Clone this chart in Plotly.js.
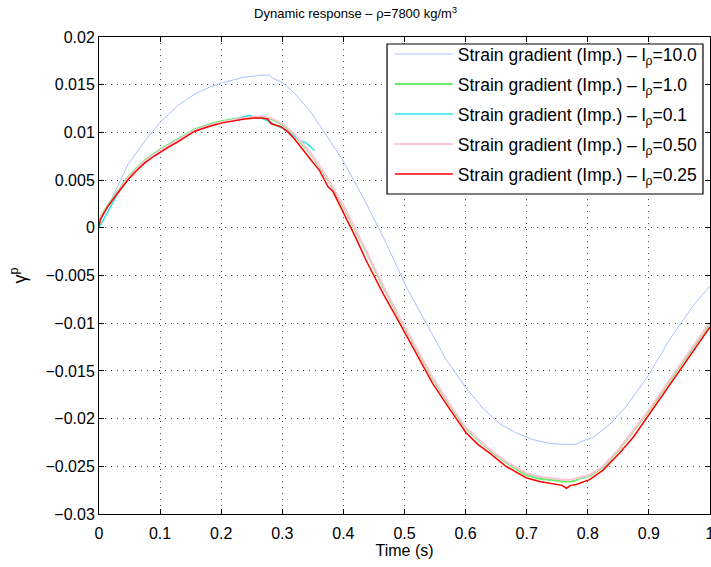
<!DOCTYPE html>
<html>
<head>
<meta charset="utf-8">
<script src="https://cdn.plot.ly/plotly-3.0.1.min.js"></script>
<style>html,body{margin:0;padding:0;background:#fff;}#chart{width:711px;height:567px;}</style>
</head>
<body>
<div id="chart"></div>
<script>
// ---- Data ----
const seriesNames = [
  "Strain gradient (Imp.) – l<sub>ρ</sub>=10.0",
  "Strain gradient (Imp.) – l<sub>ρ</sub>=1.0",
  "Strain gradient (Imp.) – l<sub>ρ</sub>=0.1",
  "Strain gradient (Imp.) – l<sub>ρ</sub>=0.50",
  "Strain gradient (Imp.) – l<sub>ρ</sub>=0.25"
];

const xL10 = [0, 0.005, 0.014, 0.025, 0.047, 0.075, 0.102, 0.129, 0.156, 0.183, 0.202, 0.22, 0.238, 0.255, 0.265, 0.279, 0.284, 0.301, 0.32, 0.347, 0.366, 0.383, 0.399, 0.437, 0.47, 0.503, 0.536, 0.568, 0.601, 0.628, 0.655, 0.683, 0.71, 0.737, 0.76, 0.781, 0.789, 0.808, 0.836, 0.863, 0.9, 0.934, 0.972, 1.0];
const yL10 = [0.0004, 0.0012, 0.0022, 0.0036, 0.0066, 0.0091, 0.0112, 0.0128, 0.0140, 0.0148, 0.0152, 0.0155, 0.0158, 0.0159, 0.0160, 0.0160, 0.0157, 0.0152, 0.0141, 0.0121, 0.0103, 0.0087, 0.0071, 0.0026, -0.0016, -0.0062, -0.0100, -0.0138, -0.0168, -0.0189, -0.0205, -0.0215, -0.0222, -0.0226, -0.0227, -0.0227, -0.0224, -0.0220, -0.0206, -0.0187, -0.0154, -0.0117, -0.0082, -0.0061];

const xL1 = [0, 0.003, 0.014, 0.03, 0.047, 0.075, 0.102, 0.129, 0.156, 0.184, 0.202, 0.238, 0.265, 0.282, 0.301, 0.32, 0.347, 0.375, 0.401, 0.437, 0.465, 0.492, 0.525, 0.546, 0.574, 0.601, 0.639, 0.666, 0.699, 0.721, 0.748, 0.758, 0.772, 0.781, 0.785, 0.803, 0.825, 0.852, 0.9, 0.945, 1.0];
const yL1 = [0.0003, 0.0012, 0.0023, 0.0038, 0.0053, 0.0071, 0.0083, 0.0093, 0.0103, 0.0109, 0.0112, 0.0116, 0.0116, 0.0114, 0.0108, 0.0097, 0.0077, 0.0050, 0.0021, -0.0025, -0.0062, -0.0095, -0.0134, -0.0158, -0.0186, -0.0211, -0.0233, -0.0246, -0.0259, -0.0263, -0.0265, -0.0266, -0.0266, -0.0265, -0.0263, -0.0260, -0.0251, -0.0232, -0.0192, -0.0150, -0.0100];

const xL01 = [0, 0.005, 0.014, 0.03, 0.047, 0.075, 0.102, 0.129, 0.156, 0.184, 0.202, 0.22, 0.233, 0.24, 0.246, 0.255, 0.266, 0.279, 0.29, 0.301, 0.317, 0.33, 0.339, 0.347, 0.353];
const yL01 = [0.0, 0.0006, 0.0017, 0.0035, 0.0051, 0.0070, 0.0082, 0.0092, 0.0102, 0.0108, 0.0111, 0.0113, 0.0116, 0.0117, 0.0118, 0.0116, 0.0115, 0.0111, 0.0108, 0.0104, 0.0097, 0.0091, 0.0089, 0.0084, 0.0081];

const xL050 = [0, 0.003, 0.014, 0.03, 0.047, 0.075, 0.102, 0.129, 0.156, 0.184, 0.202, 0.238, 0.265, 0.282, 0.301, 0.32, 0.347, 0.375, 0.401, 0.437, 0.465, 0.492, 0.525, 0.546, 0.574, 0.601, 0.639, 0.666, 0.699, 0.721, 0.748, 0.758, 0.772, 0.781, 0.785, 0.803, 0.825, 0.852, 0.9, 0.945, 1.0];
const yL050 = [0.0003, 0.0011, 0.0022, 0.0037, 0.0052, 0.0070, 0.0082, 0.0092, 0.0102, 0.0108, 0.0111, 0.0115, 0.0117, 0.0115, 0.0109, 0.0098, 0.0078, 0.0051, 0.0022, -0.0024, -0.0061, -0.0094, -0.0133, -0.0157, -0.0185, -0.0210, -0.0232, -0.0245, -0.0257, -0.0261, -0.0263, -0.0264, -0.0264, -0.0263, -0.0262, -0.0259, -0.0250, -0.0231, -0.0191, -0.0149, -0.0099];

const xL025 = [0, 0.002, 0.006, 0.014, 0.03, 0.047, 0.06, 0.075, 0.09, 0.102, 0.115, 0.129, 0.143, 0.156, 0.17, 0.184, 0.202, 0.22, 0.238, 0.255, 0.266, 0.276, 0.279, 0.282, 0.298, 0.31, 0.32, 0.333, 0.347, 0.361, 0.375, 0.383, 0.401, 0.42, 0.437, 0.465, 0.492, 0.525, 0.546, 0.574, 0.601, 0.62, 0.639, 0.666, 0.684, 0.699, 0.721, 0.748, 0.758, 0.765, 0.772, 0.781, 0.803, 0.825, 0.852, 0.875, 0.9, 0.945, 0.972, 1.0];
const yL025 = [0.0002, 0.0008, 0.0013, 0.0022, 0.0036, 0.0050, 0.0059, 0.0068, 0.0075, 0.0080, 0.0085, 0.0090, 0.0096, 0.0101, 0.0104, 0.0107, 0.0110, 0.0112, 0.0114, 0.0115, 0.0115, 0.0114, 0.0112, 0.0109, 0.0106, 0.0100, 0.0093, 0.0083, 0.0071, 0.0060, 0.0043, 0.0038, 0.0015, -0.0010, -0.0034, -0.0069, -0.0100, -0.0138, -0.0163, -0.0190, -0.0215, -0.0227, -0.0236, -0.0250, -0.0257, -0.0262, -0.0266, -0.0269, -0.0270, -0.0273, -0.0270, -0.0269, -0.0264, -0.0254, -0.0236, -0.0219, -0.0196, -0.0154, -0.0129, -0.0104];

const xTicks = [0, 0.1, 0.2, 0.3, 0.4, 0.5, 0.6, 0.7, 0.8, 0.9, 1];
const yTicks = [0.02, 0.015, 0.01, 0.005, 0, -0.005, -0.01, -0.015, -0.02, -0.025, -0.03];

// ---- Styles ----
const xs = [xL10, xL1, xL01, xL050, xL025];
const ys = [yL10, yL1, yL01, yL050, yL025];
const colors = ["rgb(170,192,255)", "rgb(105,238,105)", "rgb(40,230,230)", "rgb(255,196,218)", "rgb(255,0,0)"];
const widths = [1, 2, 1.5, 2, 1.5];

const traces = xs.map((x, i) => ({
  x: x, y: ys[i], type: "scatter", mode: "lines",
  name: seriesNames[i], legendgroup: "g" + i,
  line: {color: colors[i], width: widths[i]}
}));

const fontFam = "Liberation Sans, Arial, Helvetica, sans-serif";
const axisCommon = {
  showline: true, linecolor: "#000", linewidth: 1, mirror: "ticks",
  ticks: "inside", ticklen: 5, tickcolor: "#000",
  showgrid: true, gridcolor: "rgba(0,0,0,0.7)", gridwidth: 1, griddash: "1px,5px",
  zeroline: false, tickfont: {size: 16, color: "#000", family: fontFam},
  ticklabeloverflow: "allow"
};

const layout = {
  width: 711, height: 567,
  margin: {l: 99, r: 1, t: 37, b: 53, pad: 0},
  paper_bgcolor: "#fff", plot_bgcolor: "#fff",
  font: {family: fontFam, color: "#000"},
  title: {text: "Dynamic response – ρ=7800 kg/m<sup>3</sup>", font: {size: 13, color: "#000", family: fontFam},
          xref: "container", x: 0.5, xanchor: "center", yref: "container", y: 0.976, yanchor: "middle"},
  xaxis: Object.assign({}, axisCommon, {
    range: [0, 1], tickvals: xTicks, ticktext: xTicks.map(String),
    ticklabelstandoff: 5,
    title: {text: "Time (s)", font: {size: 16, color: "#000", family: fontFam}, standoff: 2}
  }),
  yaxis: Object.assign({}, axisCommon, {
    range: [-0.03, 0.02], tickvals: yTicks, ticktext: yTicks.map(v => v < 0 ? "−" + String(-v) : String(v)),
    title: {text: "γ<sup>p</sup>", font: {size: 18, color: "#000", family: fontFam}, standoff: 14}
  }),
  shapes: [{
    type: "rect", xref: "paper", yref: "paper", layer: "above",
    x0: 0.4714, x1: 0.9885, y0: 0.6709, y1: 0.9853,
    fillcolor: "#fff", line: {color: "#000", width: 1.2}
  }],
  showlegend: true,
  legend: {
    x: 0.476, y: 1.0017, xanchor: "left", yanchor: "top",
    bgcolor: "rgba(0,0,0,0)", borderwidth: 0,
    font: {size: 17.5, color: "#000", family: fontFam},
    itemwidth: 58, tracegroupgap: 4.25
  }
};

Plotly.newPlot("chart", traces, layout, {displayModeBar: false, staticPlot: true});
</script>
</body>
</html>
